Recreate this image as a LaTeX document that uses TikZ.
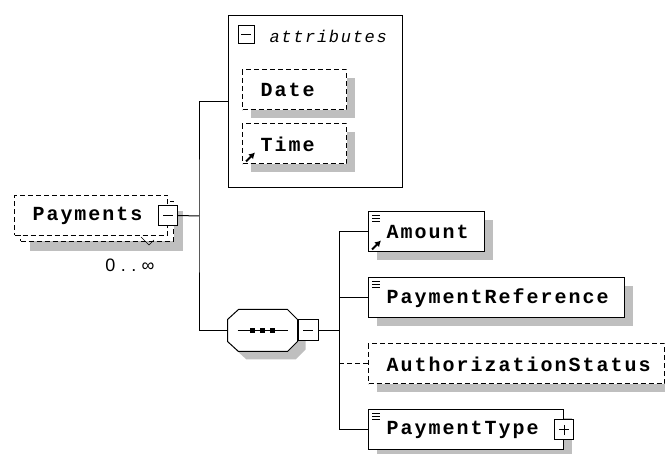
\documentclass[tikz,border=0pt]{standalone}
\usepackage{fontspec}
\newfontfamily\xsdfont{Liberation Mono}[LetterSpace=10]
\newfontfamily\cardfont{Liberation Sans}[LetterSpace=30]
\usetikzlibrary{shadows,arrows.meta}

\tikzset{
  shadowed/.style={drop shadow={shadow xshift=8pt, shadow yshift=-8pt, fill=black!25, opacity=1}},
  optional/.style={dash pattern=on 5pt off 3pt},
  elem/.style={draw, fill=white, anchor=west, minimum height=40,
    inner ysep=0, inner xsep=18, text width=#1-36, align=left,
    font=\xsdfont\bfseries\fontsize{20}{20}\selectfont},
  tgl/.style={draw, fill=white, minimum width=19, minimum height=20, inner sep=0},
  minusbox/.style={tgl, path picture={
    \draw ([xshift=-5pt]path picture bounding box.center) -- ([xshift=5pt]path picture bounding box.center);}},
  plusbox/.style={tgl, path picture={
    \draw ([xshift=-5pt]path picture bounding box.center) -- ([xshift=5pt]path picture bounding box.center);
    \draw ([yshift=-5pt]path picture bounding box.center) -- ([yshift=5pt]path picture bounding box.center);}},
}

\begin{document}
\begin{tikzpicture}[x=1pt, y=-1pt, line width=1pt]
  \useasboundingbox (0,0) rectangle (665,454);

  % root element (repeated)
  \node[elem=153, optional,
        drop shadow={shadow xshift=15pt, shadow yshift=-16pt, fill=black!25, opacity=1},
        general shadow={shadow xshift=6pt, shadow yshift=-6pt, draw, fill=white, optional}]
        (pay) at (14,215.5) {Payments};
  \node[minusbox] (pmin) at (pay.east) {};
  \draw[line width=0.6pt] ([shift={(-27,1)}]pay.south east) -- ++(8,8) -- ++(5,-5);
  \node[font=\cardfont\fontsize{18}{18}\selectfont, inner sep=0] (card) at (130,265) {0..∞};

  % attributes
  \node[draw, anchor=north west, minimum width=174, minimum height=172, inner sep=0] (attrs) at (228,15) {};
  \node[minusbox, minimum width=16, minimum height=18] (amin) at (246,35) {};
  \node[anchor=west, inner sep=0, font=\xsdfont\itshape\fontsize{17}{17}\selectfont] (atitle) at (269,36) {attributes};
  \node[elem=104, optional, shadowed] (date) at (242,90) {Date};
  \node[elem=104, optional, shadowed] (time) at (242,144) {Time};

  % sequence compositor
  \node[minimum width=69, minimum height=41, inner sep=0] (seq) at (262.5,330.5) {};
  \draw[fill=white, shadowed] ([shift={(11,0)}]seq.north west) -- ([shift={(-10,0)}]seq.north east)
    -- ([shift={(0,10)}]seq.north east) -- ([shift={(0,-10)}]seq.south east)
    -- ([shift={(-10,0)}]seq.south east) -- ([shift={(11,0)}]seq.south west)
    -- ([shift={(0,-10)}]seq.south west) -- ([shift={(0,10)}]seq.north west) -- cycle;
  \draw ([shift={(-25,0)}]seq.center) -- ([shift={(25,0)}]seq.center);
  \foreach \dx in {-10,0,10}
    \fill ([shift={(\dx,0)}]seq.center) +(-2.5,-2.5) rectangle +(2.5,2.5);
  \node[minusbox, minimum width=20, minimum height=21, anchor=west] (smin) at (seq.east) {};

  \coordinate (j1) at (199,216);
  \draw (pmin.east) -- (j1);
  \draw (attrs.west) -| (j1) |- (seq.west);

  % child elements
  \node[elem=116, shadowed] (amt) at (368,232) {Amount};
  \node[elem=256, shadowed] (pref) at (368,298) {PaymentReference};
  \node[elem=296, optional, shadowed] (auth) at (368,364) {AuthorizationStatus};
  \node[elem=195, shadowed] (ptype) at (368,430) {PaymentType};
  \node[plusbox] (pplus) at (ptype.east) {};

  \coordinate (j2) at (339,330.5);
  \draw (smin.east) -- (j2);
  \draw (j2 |- amt.west) -- (j2 |- ptype.west);
  \foreach \e in {amt,pref,ptype}
    \draw (j2 |- \e.west) -- (\e.west);
  \draw[optional] (j2 |- auth.west) -- (auth.west);

  % small icons
  \foreach \e in {amt,pref,ptype}
    \foreach \dy in {4,7,10}
      \draw ([shift={(4,\dy)}]\e.north west) -- ++(8,0);
  \foreach \e in {time,amt}
    \draw[line width=2pt, -{Latex[length=6pt,width=7pt]}] ([shift={(4,-3)}]\e.south west) -- ++(9,-9);
\end{tikzpicture}
\end{document}
